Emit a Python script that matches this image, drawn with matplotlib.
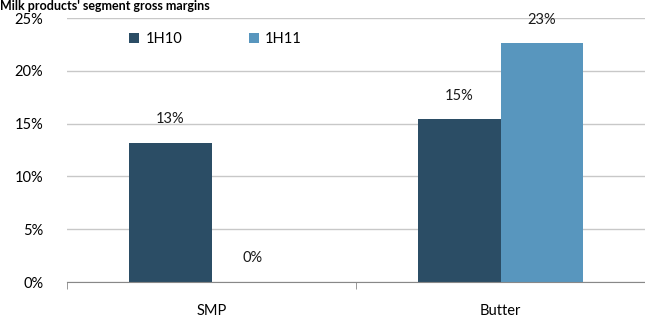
import matplotlib.pyplot as plt
import numpy as np

categories = ["SMP", "Butter"]
series_names = ["1H10", "1H11"]
margins_1h10 = [0.132, 0.154]
margins_1h11 = [0.0, 0.226]
y_ticks = [0, 0.05, 0.10, 0.15, 0.20, 0.25]

colors = ["#2B4D65", "#5896BE"]
plt.rcParams["font.family"] = ["Lato", "DejaVu Sans"]
fs = 10.5

fig = plt.figure(figsize=(6.45, 3.22), dpi=100)
ax = fig.add_axes([67 / 645, 1 - 282 / 322, 578 / 645, 264 / 322])

x = np.arange(len(categories))
w = 0.284
series = [margins_1h10, margins_1h11]
for i, (name, vals) in enumerate(zip(series_names, series)):
    pos = x + (i - 0.5) * w
    ax.bar(pos, vals, width=w, color=colors[i], label=name, zorder=3,
           align="center")
    for p, v in zip(pos, vals):
        ax.annotate(f"{v:.0%}", (p, v), xytext=(0, 12), textcoords="offset points",
                    ha="center", va="bottom", fontsize=fs, color="#1a1a1a")

ax.set_xlim(-0.5, 1.5)
ax.set_ylim(0, 0.25)
ax.set_yticks(y_ticks)
ax.set_yticklabels([f"{t:.0%}" for t in y_ticks], fontsize=fs)
ax.yaxis.grid(True, color="#c8c8c8", linewidth=1, zorder=0)
ax.tick_params(axis="y", length=0, pad=17)

ax.set_xticks(x)
ax.set_xticklabels(categories, fontsize=fs)
ax.set_xticks([-0.5, 0.5, 1.5], minor=True)
ax.tick_params(axis="x", which="major", length=0, pad=16)
ax.tick_params(axis="x", which="minor", length=5, color="#888888", direction="out")

for s in ["top", "right", "left"]:
    ax.spines[s].set_visible(False)
ax.spines["bottom"].set_color("#888888")
ax.spines["bottom"].set_zorder(4)

ax.legend(loc="upper left", bbox_to_anchor=(0.085, 0.995), ncol=2, frameon=False,
          fontsize=fs, handlelength=0.7, handleheight=0.7, handletextpad=0.4,
          columnspacing=4.6)

fig.text(0.0, 1.0, "Milk products' segment gross margins", fontsize=9,
         fontweight="bold", ha="left", va="top")

fig.savefig("out.png", dpi=100)
